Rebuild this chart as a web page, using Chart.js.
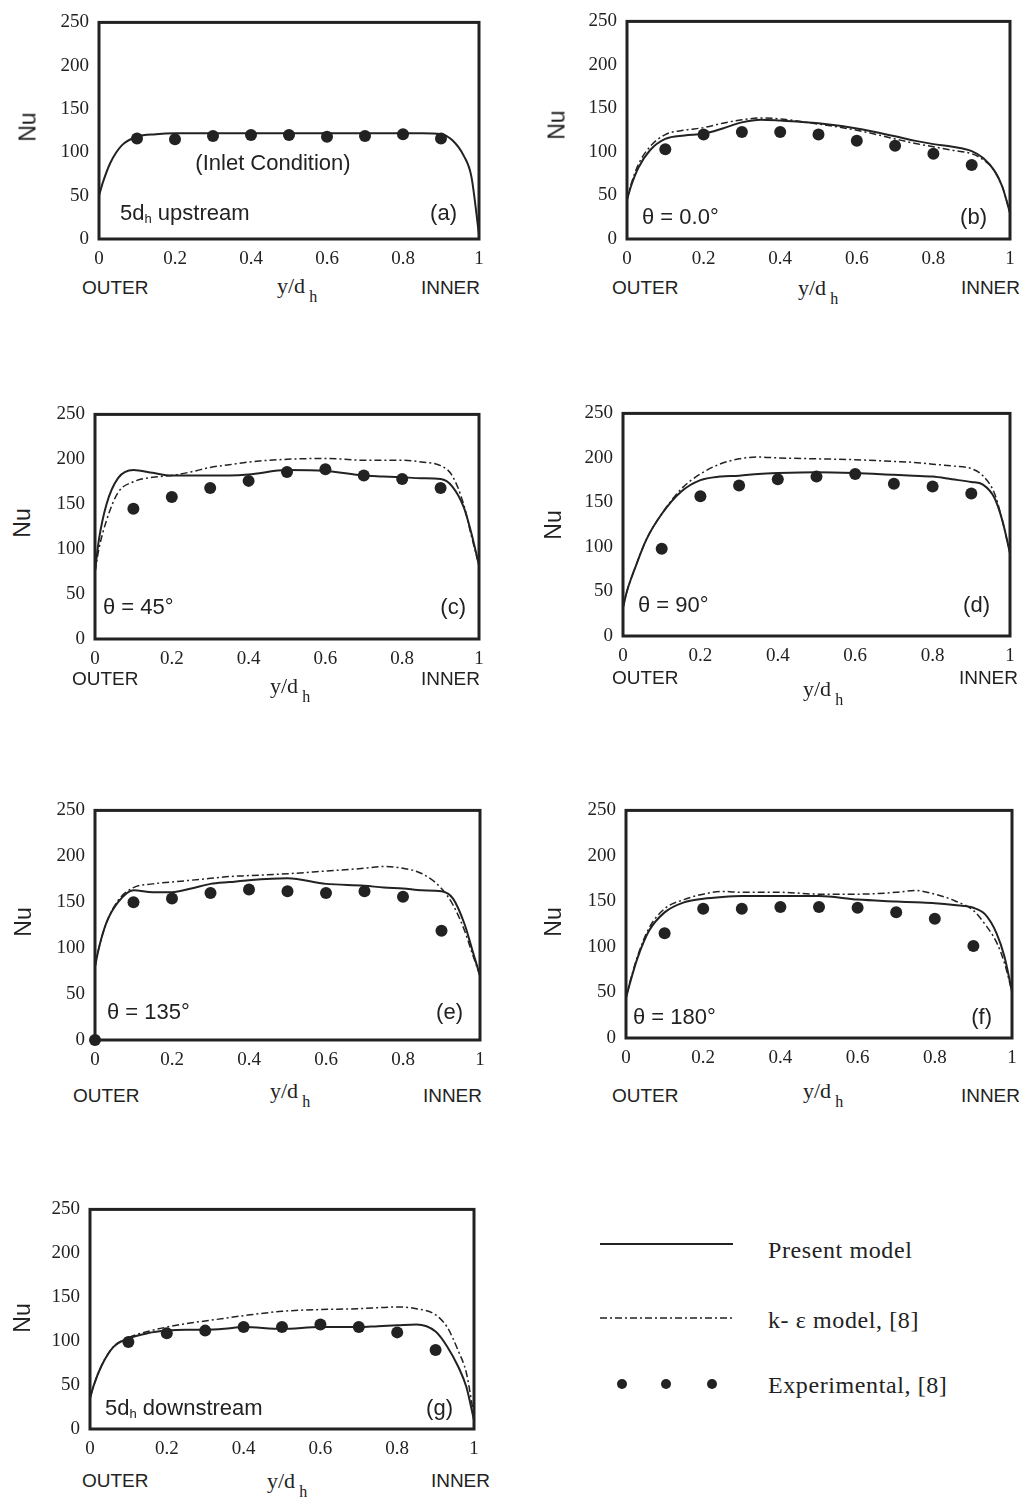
<!DOCTYPE html>
<html lang="en">
<head>
  <meta charset="UTF-8" />
  <title>Nu distribution across the duct</title>
  <script src="https://cdn.jsdelivr.net/npm/chart.js"></script>
  <style>
    body {
      margin: 0;
      width: 1030px;
      height: 1502px;
      position: relative;
      overflow: hidden;
      background: #fff;
      color: #222;
      font-family: "Liberation Sans", Arial, sans-serif;
    }
    canvas { position: absolute; }
    .lbl {
      position: absolute;
      white-space: nowrap;
      line-height: 1;
      transform: translateY(-50%);
    }
    .note { font-size: 22px; }
    .edge { font-size: 19px; }
    .yd { font-family: "Liberation Serif", serif; font-size: 22px; }
    .yd sub { font-size: 16px; vertical-align: -9px; margin-left: 4px; }
    .note sub { font-size: 13px; vertical-align: -3px; }
    .nu { font-size: 23px; transform: translate(-50%, -50%) rotate(-90deg); }
    .leg { font-family: "Liberation Serif", serif; font-size: 24px; letter-spacing: 0.6px; }
    svg { position: absolute; left: 0; top: 0; }
  </style>
</head>
<body>

<svg width="1030" height="1502">
  <line x1="600" y1="1244" x2="733" y2="1244" stroke="#222" stroke-width="2" />
  <line x1="600" y1="1318" x2="733" y2="1318" stroke="#222" stroke-width="1.5" stroke-dasharray="7 3 2 3" />
  <circle cx="622" cy="1384" r="5" fill="#222" />
  <circle cx="666" cy="1384" r="5" fill="#222" />
  <circle cx="712" cy="1384" r="5" fill="#222" />
</svg>

<script>
  // y/d_h positions where the model curves were read
  const xGrid = [0, 0.01, 0.03, 0.06, 0.1, 0.15, 0.2, 0.25, 0.3, 0.35, 0.4, 0.5, 0.6, 0.7, 0.75, 0.8, 0.85, 0.9, 0.93, 0.96, 0.98, 1];
  const expX = [0.1, 0.2, 0.3, 0.4, 0.5, 0.6, 0.7, 0.8, 0.9];
  const xTicks = [0, 0.2, 0.4, 0.6, 0.8, 1];
  const yTicks = [0, 50, 100, 150, 200, 250];

  // (a) 5dh upstream
  const presentA = [50, 65, 88, 108, 118, 121, 122, 122, 122, 122, 122, 122, 122, 122, 122, 122, 122, 121, 114, 96, 72, 5];
  const expA = [116, 115, 119, 120, 120, 118, 119, 121, 116];

  // (b) theta = 0
  const presentB = [45, 60, 82, 102, 115, 119, 121, 127, 134, 137, 136, 133, 127, 118, 113, 109, 106, 101, 93, 78, 60, 30];
  const kEpsB = [45, 62, 86, 106, 120, 125, 128, 133, 137, 139, 138, 132, 125, 115, 110, 106, 102, 98, 91, 78, 60, 30];
  const expB = [103, 120, 123, 123, 120, 113, 107, 98, 85];

  // (c) theta = 45
  const presentC = [75, 110, 150, 179, 188, 185, 182, 182, 182, 182, 183, 188, 187, 182, 181, 180, 179, 178, 170, 147, 118, 82];
  const kEpsC = [75, 100, 132, 163, 175, 180, 182, 186, 191, 194, 197, 200, 201, 199, 199, 199, 197, 193, 182, 150, 115, 82];
  const expC = [145, 158, 168, 176, 186, 189, 182, 178, 168];

  // (d) theta = 90
  const presentD = [32, 50, 75, 108, 137, 162, 175, 179, 180, 182, 183, 184, 183, 181, 180, 179, 176, 173, 170, 155, 130, 93];
  const kEpsD = [32, 50, 75, 108, 137, 165, 182, 193, 199, 201, 200, 199, 198, 196, 195, 193, 191, 188, 180, 160, 130, 93];
  const expD = [98, 157, 169, 176, 179, 182, 171, 168, 160];

  // (e) theta = 135 (one extra reading at the wall)
  const presentE = [80, 100, 128, 150, 163, 161, 161, 165, 170, 172, 174, 176, 170, 168, 166, 165, 163, 162, 154, 126, 98, 70];
  const kEpsE = [80, 100, 128, 152, 166, 170, 172, 174, 176, 178, 179, 181, 184, 187, 189, 187, 181, 165, 147, 119, 94, 70];
  const expXE = [0, 0.1, 0.2, 0.3, 0.4, 0.5, 0.6, 0.7, 0.8, 0.9];
  const expE = [0, 150, 154, 160, 164, 162, 160, 162, 156, 119];

  // (f) theta = 180
  const presentF = [44, 60, 88, 118, 138, 149, 153, 155, 156, 156, 156, 156, 152, 150, 149, 148, 146, 143, 136, 115, 90, 51];
  const kEpsF = [44, 61, 90, 121, 142, 152, 158, 161, 160, 160, 160, 158, 158, 160, 162, 158, 151, 140, 125, 105, 83, 51];
  const expF = [115, 142, 142, 144, 144, 143, 138, 131, 101];

  // (g) 5dh downstream
  const presentG = [35, 50, 72, 93, 103, 109, 112, 113, 113, 114, 116, 114, 116, 116, 117, 118, 119, 111, 94, 70, 48, 10];
  const kEpsG = [35, 50, 72, 93, 104, 111, 116, 120, 123, 126, 129, 134, 136, 137, 138, 139, 137, 130, 116, 88, 64, 15];
  const expG = [99, 109, 112, 116, 116, 119, 116, 110, 90];

  // plot box on the page: left, top, right, bottom
  const panels = [
    { box: [99, 15, 479, 239],    present: presentA, kEps: null,  ex: expX,  exp: expA },
    { box: [627, 14, 1010, 239],  present: presentB, kEps: kEpsB, ex: expX,  exp: expB },
    { box: [95, 407, 479, 639],   present: presentC, kEps: kEpsC, ex: expX,  exp: expC },
    { box: [623, 406, 1010, 636], present: presentD, kEps: kEpsD, ex: expX,  exp: expD },
    { box: [95, 803, 480, 1040],  present: presentE, kEps: kEpsE, ex: expXE, exp: expE },
    { box: [626, 803, 1012, 1038],present: presentF, kEps: kEpsF, ex: expX,  exp: expF },
    { box: [90, 1202, 474, 1429], present: presentG, kEps: kEpsG, ex: expX,  exp: expG }
  ];

  const PAD_L = 60, PAD_T = 14, PAD_R = 14, PAD_B = 34;

  const frame = {
    id: 'frame',
    afterDraw(chart) {
      const a = chart.chartArea, ctx = chart.ctx;
      ctx.save();
      ctx.lineWidth = 3;
      ctx.strokeStyle = '#222';
      ctx.strokeRect(a.left, a.top, a.right - a.left, a.bottom - a.top);
      ctx.restore();
    }
  };

  const pts = (xs, ys) => xs.map((x, i) => ({ x: x, y: ys[i] }));
  const tickFont = { family: 'Liberation Serif', size: 19 };

  panels.forEach(p => {
    const [l, t, r, b] = p.box;
    const cv = document.createElement('canvas');
    cv.width = r - l + PAD_L + PAD_R;
    cv.height = b - t + PAD_T + PAD_B;
    cv.style.left = (l - PAD_L) + 'px';
    cv.style.top = (t - PAD_T) + 'px';
    document.body.appendChild(cv);

    const datasets = [{
      data: pts(xGrid, p.present),
      borderColor: '#222',
      borderWidth: 2,
      pointRadius: 0,
      cubicInterpolationMode: 'monotone'
    }];
    if (p.kEps) {
      datasets.push({
        data: pts(xGrid, p.kEps),
        borderColor: '#222',
        borderWidth: 1.5,
        borderDash: [7, 3, 2, 3],
        pointRadius: 0,
        cubicInterpolationMode: 'monotone'
      });
    }
    datasets.push({
      data: pts(p.ex, p.exp),
      showLine: false,
      pointRadius: 6,
      pointBackgroundColor: '#222',
      pointBorderWidth: 0,
      clip: false
    });

    new Chart(cv, {
      type: 'line',
      data: { datasets: datasets },
      options: {
        responsive: false,
        animation: false,
        devicePixelRatio: 1,
        layout: { padding: { left: 0, top: PAD_T, right: PAD_R, bottom: 0 } },
        plugins: { legend: { display: false }, tooltip: { enabled: false } },
        scales: {
          x: {
            type: 'linear', min: 0, max: 1,
            afterFit: s => { s.height = PAD_B; },
            afterBuildTicks: s => { s.ticks = xTicks.map(v => ({ value: v })); },
            grid: { display: false, drawTicks: false },
            border: { display: false },
            ticks: { color: '#222', font: tickFont, padding: 9, maxRotation: 0,
                     callback: v => String(Math.round(v * 10) / 10) }
          },
          y: {
            min: 0, max: 250,
            afterFit: s => { s.width = PAD_L; },
            afterBuildTicks: s => { s.ticks = yTicks.map(v => ({ value: v })); },
            grid: { display: false, drawTicks: false },
            border: { display: false },
            ticks: { color: '#222', font: tickFont, padding: 10 }
          }
        }
      },
      plugins: [frame]
    });
  });

  // text around the panels: [html, x, y, class, anchor]
  const labels = [
    ['(Inlet Condition)', 273, 163, 'note', 'c'],
    ['5d<sub>h</sub> upstream', 120, 213, 'note', 'l'],
    ['(a)', 457, 213, 'note', 'r'],
    ['&theta; = 0.0&deg;', 642, 217, 'note', 'l'],
    ['(b)', 987, 217, 'note', 'r'],
    ['&theta; = 45&deg;', 103, 607, 'note', 'l'],
    ['(c)', 466, 607, 'note', 'r'],
    ['&theta; = 90&deg;', 638, 605, 'note', 'l'],
    ['(d)', 990, 605, 'note', 'r'],
    ['&theta; = 135&deg;', 107, 1012, 'note', 'l'],
    ['(e)', 463, 1012, 'note', 'r'],
    ['&theta; = 180&deg;', 633, 1017, 'note', 'l'],
    ['(f)', 992, 1017, 'note', 'r'],
    ['5d<sub>h</sub> downstream', 105, 1408, 'note', 'l'],
    ['(g)', 453, 1408, 'note', 'r'],

    ['Nu', 28, 127, 'nu', 'n'], ['Nu', 557, 125, 'nu', 'n'],
    ['Nu', 22, 523, 'nu', 'n'], ['Nu', 553, 525, 'nu', 'n'],
    ['Nu', 23, 922, 'nu', 'n'], ['Nu', 553, 922, 'nu', 'n'],
    ['Nu', 22, 1318, 'nu', 'n'],

    ['OUTER', 82, 287, 'edge', 'l'], ['INNER', 480, 287, 'edge', 'r'],
    ['OUTER', 612, 287, 'edge', 'l'], ['INNER', 1020, 287, 'edge', 'r'],
    ['OUTER', 72, 678, 'edge', 'l'], ['INNER', 480, 678, 'edge', 'r'],
    ['OUTER', 612, 677, 'edge', 'l'], ['INNER', 1018, 677, 'edge', 'r'],
    ['OUTER', 73, 1095, 'edge', 'l'], ['INNER', 482, 1095, 'edge', 'r'],
    ['OUTER', 612, 1095, 'edge', 'l'], ['INNER', 1020, 1095, 'edge', 'r'],
    ['OUTER', 82, 1480, 'edge', 'l'], ['INNER', 490, 1480, 'edge', 'r'],

    ['y/d<sub>h</sub>', 277, 290, 'yd', 'l'], ['y/d<sub>h</sub>', 798, 292, 'yd', 'l'],
    ['y/d<sub>h</sub>', 270, 690, 'yd', 'l'], ['y/d<sub>h</sub>', 803, 693, 'yd', 'l'],
    ['y/d<sub>h</sub>', 270, 1095, 'yd', 'l'], ['y/d<sub>h</sub>', 803, 1095, 'yd', 'l'],
    ['y/d<sub>h</sub>', 267, 1485, 'yd', 'l'],

    ['Present model', 768, 1250, 'leg', 'l'],
    ['k- &epsilon; model, [8]', 768, 1320, 'leg', 'l'],
    ['Experimental, [8]', 768, 1385, 'leg', 'l']
  ];

  labels.forEach(([html, x, y, cls, anchor]) => {
    const d = document.createElement('div');
    d.className = 'lbl ' + cls;
    d.innerHTML = html;
    d.style.top = y + 'px';
    if (anchor === 'r') {
      d.style.right = (1030 - x) + 'px';
    } else {
      d.style.left = x + 'px';
      if (anchor === 'c') d.style.transform = 'translate(-50%, -50%)';
    }
    document.body.appendChild(d);
  });
</script>

</body>
</html>
